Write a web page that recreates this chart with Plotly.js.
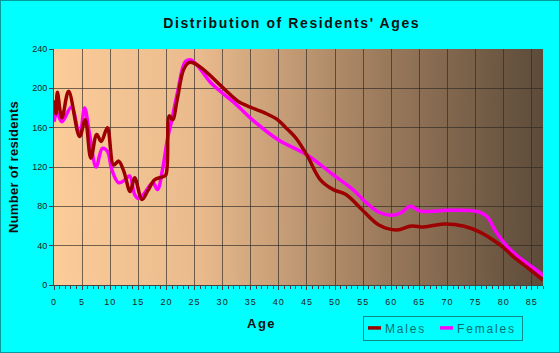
<!DOCTYPE html>
<html>
<head>
<meta charset="utf-8">
<script src="https://cdn.plot.ly/plotly-3.0.1.min.js"></script>
<style>
  html, body { margin: 0; padding: 0; background: #00ffff; }
  #wrap { width: 558px; height: 351px; border: 1px solid #0a9a9a; }
  #chart { width: 558px; height: 351px; }
  .gtitle { letter-spacing: 1.6px; }
  .legendtext { letter-spacing: 1.8px; }
  .xtick text { letter-spacing: 1px; }
  .annotation-text { letter-spacing: 1.5px; }
  .ytitle { letter-spacing: 0.3px; }
</style>
</head>
<body>
<div id="wrap"><div id="chart"></div></div>
<script>
// ---- data ----
const maleAges = [0, 0.35, 0.6, 1.4, 2.6, 4.55, 5.55, 6.55, 7.6, 8.4, 9.5, 10.6, 11.5, 12.4, 13.55, 14.35, 15.65, 16.7, 17.9, 19.3, 19.9, 20.5, 21.1, 21.9, 23.05, 23.95, 24.75, 26.6, 28.9, 30.9, 32.95, 35.3, 37.5, 39.8, 41.25, 43.1, 45.1, 47.4, 49.7, 51.95, 54.9, 57.8, 60.95, 63.6, 65.8, 69.35, 72.8, 75.7, 78.05, 79.75, 82.1, 84.4, 87];
const males = [188, 174, 196, 170, 197, 151, 168, 129, 153, 146, 160, 122, 126, 116, 95, 109, 87, 96, 107, 110, 112, 172, 168, 188, 219, 226, 226, 219, 207, 196, 186, 180, 175, 168, 160, 149, 131, 107, 97, 92, 76, 61, 56, 60, 59, 62, 60, 54, 46, 39, 27, 17, 5];

const femaleAges = [0, 0.5, 1.4, 3.1, 4.55, 5.45, 6.3, 7.5, 8.6, 9.5, 10.3, 11.5, 12.65, 13.45, 14.35, 14.95, 15.9, 17.6, 18.4, 19.3, 20.2, 20.85, 21.95, 23.35, 24.25, 25.4, 27.7, 30.0, 32.35, 35.3, 39.8, 45.1, 49.7, 53.2, 55.5, 57.8, 60.15, 61.9, 63.3, 65.3, 69.95, 75.1, 76.95, 78.65, 81.0, 83.2, 86.75, 87];
const females = [166, 175, 166, 181, 152, 180, 154, 120, 139, 136, 117, 104, 107, 111, 92, 88, 92, 104, 97, 117, 149, 165, 195, 227, 229, 224, 207, 195, 184, 168, 148, 132, 112, 97, 84, 74, 71, 74, 80, 75, 76, 75, 70, 54, 37, 26, 11, 9];

const seriesNames = ["Males", "Females"];
const xTickVals = [0, 5, 10, 15, 20, 25, 30, 35, 40, 45, 50, 55, 60, 65, 70, 75, 80, 85];
const yTickVals = [0, 40, 80, 120, 160, 200, 240];

// ---- background gradient image ----
function gradientURL() {
  const c = document.createElement('canvas');
  c.width = 500; c.height = 10;
  const g = c.getContext('2d');
  const lg = g.createLinearGradient(0, 0, 500, 0);
  lg.addColorStop(0, '#fccc99');
  lg.addColorStop(0.3, '#e9ba8c');
  lg.addColorStop(0.65, '#a07e5f');
  lg.addColorStop(1, '#5d4b3a');
  g.fillStyle = lg;
  g.fillRect(0, 0, 500, 10);
  return c.toDataURL();
}

const traces = [
  {
    x: femaleAges, y: females, name: seriesNames[1], type: 'scatter', mode: 'lines',
    line: { color: '#ff00ff', width: 3.5, shape: 'spline', smoothing: 1 },
    legendrank: 2
  },
  {
    x: maleAges, y: males, name: seriesNames[0], type: 'scatter', mode: 'lines',
    line: { color: '#9c0000', width: 3.5, shape: 'spline', smoothing: 1 },
    legendrank: 1
  }
];

const layout = {
  width: 558, height: 351,
  margin: { l: 53, r: 4, t: 48, b: 67 },
  paper_bgcolor: '#00ffff',
  plot_bgcolor: '#fccc99',
  font: { family: '"Liberation Sans", Arial, sans-serif', color: '#222', size: 9 },
  title: {
    text: "Distribution of Residents' Ages",
    font: { family: '"Liberation Sans", Arial, sans-serif', size: 14, weight: 'bold', color: '#111' },
    x: 0.521, xanchor: 'center', xref: 'container',
    y: 0.937, yanchor: 'middle', yref: 'container'
  },
  xaxis: {
    range: [0, 87], tickvals: xTickVals, ticktext: xTickVals.map(String),
    ticks: 'outside', ticklen: 4, tickcolor: '#444', tickwidth: 1,
    minor: { dtick: 1, tick0: 0, ticks: 'outside', ticklen: 3, tickcolor: '#444', showgrid: false },
    showgrid: true, gridcolor: 'rgba(45,40,35,0.65)', gridwidth: 1,
    showline: true, linecolor: '#444', linewidth: 1,
    zeroline: false, fixedrange: true,
    tickfont: { size: 9, color: '#222' }, ticklabelstandoff: 4
  },
  yaxis: {
    range: [0, 240], tickvals: yTickVals, ticktext: yTickVals.map(String),
    ticks: 'outside', ticklen: 4, tickcolor: '#444', tickwidth: 1,
    showgrid: true, gridcolor: 'rgba(45,40,35,0.65)', gridwidth: 1,
    showline: true, linecolor: '#444', linewidth: 1,
    zeroline: false, fixedrange: true,
    tickfont: { size: 9, color: '#222' },
    title: { text: 'Number of residents', standoff: 10,
             font: { family: '"Liberation Sans", Arial, sans-serif', size: 13, weight: 'bold', color: '#111' } }
  },
  annotations: [{
    text: 'Age', xref: 'paper', yref: 'paper', x: 0.4235, y: -0.165,
    xanchor: 'center', yanchor: 'middle', showarrow: false,
    font: { family: '"Liberation Sans", Arial, sans-serif', size: 13, weight: 'bold', color: '#111' }
  }],
  images: [{
    source: gradientURL(), xref: 'paper', yref: 'paper', x: 0, y: 1,
    sizex: 1, sizey: 1, sizing: 'stretch', xanchor: 'left', yanchor: 'top', layer: 'below'
  }],
  showlegend: true,
  legend: {
    orientation: 'h', x: 0.632, y: -0.131, xanchor: 'left', yanchor: 'top',
    bgcolor: '#00ffff', bordercolor: '#0a8c8c', borderwidth: 1,
    font: { family: '"Liberation Sans", Arial, sans-serif', size: 12, color: '#067070' },
    itemwidth: 30, tracegroupgap: 0
  }
};

// Compact the legend swatches to short dashes like the reference.
function compactLegend(gd) {
  try {
    const leg = gd.querySelector('.legend');
    if (!leg) return;
    const items = Array.from(leg.querySelectorAll('.traces'));
    let x = 2;
    const yMid = 12;
    items.forEach((it, i) => {
      it.setAttribute('transform', 'translate(' + x + ',' + yMid + ')');
      it.querySelectorAll('.legendlines path').forEach(p => p.setAttribute('d', 'M3,0h13'));
      const t = it.querySelector('.legendtext');
      let w = 40;
      if (t) {
        t.setAttribute('x', 20);
        t.querySelectorAll('tspan').forEach(s => { if (s.hasAttribute('x')) s.setAttribute('x', 20); });
        w = t.getComputedTextLength();
      }
      const tog = it.querySelector('.legendtoggle');
      if (tog) tog.setAttribute('width', 20 + w);
      x += 20 + w + (i < items.length - 1 ? 11 : 6);
    });
    const bg = leg.querySelector('.bg');
    if (bg) { bg.setAttribute('width', x); bg.setAttribute('height', 24); }
  } catch (e) { /* keep default legend */ }
}

Plotly.newPlot('chart', traces, layout, { displayModeBar: false, staticPlot: true })
  .then(gd => compactLegend(gd));
</script>
</body>
</html>
